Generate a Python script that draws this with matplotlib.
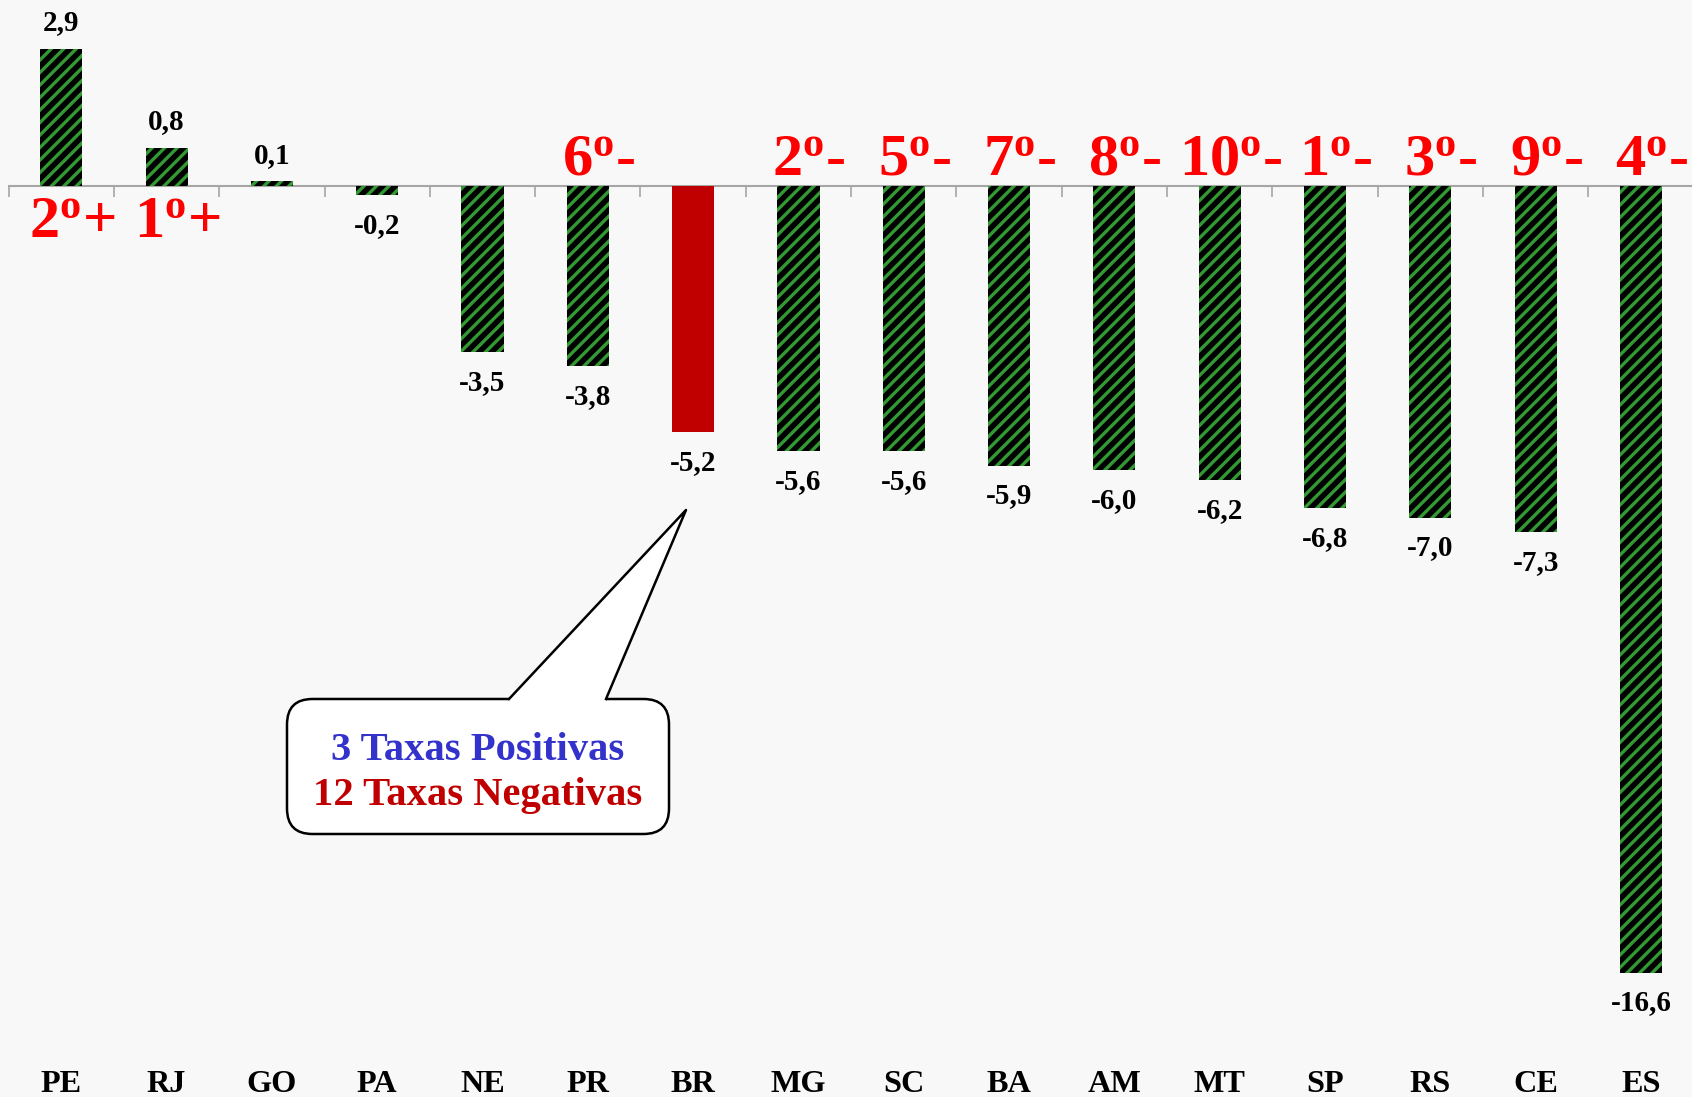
import matplotlib
matplotlib.use("Agg")
import matplotlib.pyplot as plt
from matplotlib.patches import FancyBboxPatch, Polygon
from matplotlib.lines import Line2D
import matplotlib.transforms as mtransforms

# ---------------------------------------------------------
# DATA
# ---------------------------------------------------------
estados = ["PE", "RJ", "GO", "PA", "NE", "PR", "BR", "MG",
           "SC", "BA", "AM", "MT", "SP", "RS", "CE", "ES"]
taxas = [2.9, 0.8, 0.1, -0.2, -3.5, -3.8, -5.2, -5.6,
         -5.6, -5.9, -6.0, -6.2, -6.8, -7.0, -7.3, -16.6]
ranking = ["2", "1", "", "", "", "6", "", "2",
           "5", "7", "8", "10", "1", "3", "9", "4"]
destaque = "BR"
caixa_linhas = ["3 Taxas Positivas", "12 Taxas Negativas"]

# ---------------------------------------------------------
# STYLE
# ---------------------------------------------------------
DPI = 150
BG = "#f8f8f8"
GREEN = "#339933"
RED_BAR = "#c00000"
RANK_RED = "#ff0000"
SERIF = "Liberation Serif"

plt.rcParams["hatch.linewidth"] = 1.6
plt.rcParams["mathtext.fontset"] = "custom"
plt.rcParams["mathtext.rm"] = "Liberation Serif:bold"
plt.rcParams["mathtext.bf"] = "Liberation Serif:bold"
plt.rcParams["mathtext.it"] = "Liberation Serif:bold"

fig = plt.figure(figsize=(1692 / DPI, 1097 / DPI), dpi=DPI, facecolor=BG)
ax = fig.add_axes([8.6 / 1692, 0, 1685 / 1692, 1])
ax.set_facecolor(BG)

for i, (uf, v) in enumerate(zip(estados, taxas)):
    if uf == destaque:
        ax.bar(i, v, width=0.4, color=RED_BAR, linewidth=0, zorder=2)
    else:
        ax.bar(i, v, width=0.4, facecolor="black", edgecolor=GREEN,
               hatch="////", linewidth=0, zorder=2)

ax.set_xlim(-0.5, len(estados) - 0.5)
ax.set_ylim(-19.22, 3.924)

# axis line at zero with ticks between categories
for s in ["top", "right", "left"]:
    ax.spines[s].set_visible(False)
ax.spines["bottom"].set_position(("data", 0))
ax.spines["bottom"].set_color("#a6a6a6")
ax.spines["bottom"].set_linewidth(1.0)
ax.spines["bottom"].set_zorder(1)
ax.set_yticks([])
ax.set_xticks([i - 0.5 for i in range(len(estados) + 1)])
ax.set_xticklabels([])
ax.tick_params(axis="x", direction="out", length=5.3, width=0.8, color="#a6a6a6")

# value labels
for i, v in enumerate(taxas):
    txt = f"{v:.1f}".replace(".", ",")
    off = 12.5 if v >= 0 else -14.5
    ax.annotate(txt, (i, v), xytext=(0, off), textcoords="offset points",
                ha="center", va="center", fontsize=14, fontweight="bold",
                family=SERIF, color="black")

# category labels at bottom
trans = mtransforms.blended_transform_factory(ax.transData, ax.transAxes)
for i, uf in enumerate(estados):
    ax.text(i, 0.011, uf, transform=trans, ha="center", va="center",
            fontsize=15.5, fontweight="bold", family=SERIF)

# ranking labels
for i, (r, v) in enumerate(zip(ranking, taxas)):
    if not r:
        continue
    sinal = "+" if v > 0 else "-"
    label = r + r"$^{\mathbf{o}}$" + sinal
    yoff = -24.5 if v > 0 else 5.3
    ax.annotate(label, (i + 0.1, 0), xytext=(0, yoff), textcoords="offset points",
                ha="center", va="baseline", fontsize=29, fontweight="bold",
                family=SERIF, color=RANK_RED)

# callout box
inch = fig.dpi_scale_trans
box = FancyBboxPatch((287 / DPI, (1097 - 834) / DPI), 382 / DPI, 135 / DPI,
                     boxstyle="round,pad=0,rounding_size=0.17",
                     transform=inch, facecolor="white", edgecolor="black",
                     linewidth=1.2, zorder=5)
fig.patches.append(box)
ytop = (1097 - 699) / DPI
x1, x2 = 509 / DPI, 606 / DPI
tip = (686 / DPI, (1097 - 510) / DPI)
tri = Polygon([(x1, ytop - 0.03), (x1, ytop), tip, (x2, ytop), (x2, ytop - 0.03)],
              closed=True, transform=inch, facecolor="white", edgecolor="none",
              zorder=6)
fig.patches.append(tri)
fig.lines.append(Line2D([x1, tip[0], x2], [ytop, tip[1], ytop], transform=inch,
                        color="black", linewidth=1.2, zorder=7))

fig.text(478 / DPI, (1097 - 751) / DPI, caixa_linhas[0], transform=inch,
         ha="center", va="center", fontsize=19.5, fontweight="bold",
         family=SERIF, color="#3333cc", zorder=8)
fig.text(478 / DPI, (1097 - 796) / DPI, caixa_linhas[1], transform=inch,
         ha="center", va="center", fontsize=19.5, fontweight="bold",
         family=SERIF, color=RED_BAR, zorder=8)

fig.savefig("out.png", dpi=DPI, facecolor=BG)
